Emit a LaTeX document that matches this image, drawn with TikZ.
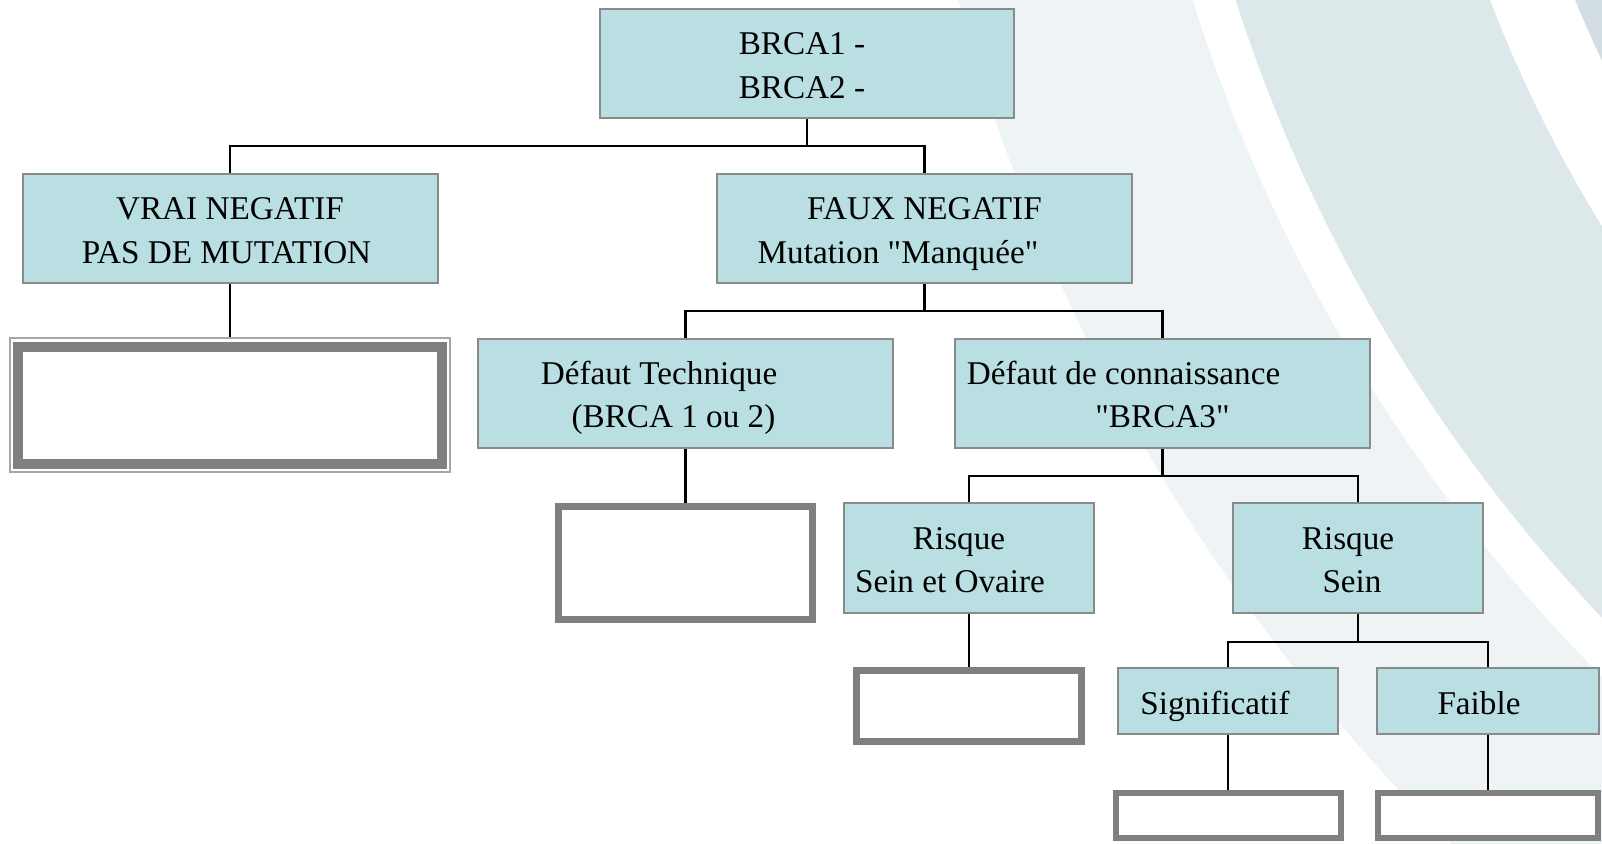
\documentclass[tikz,border=0pt]{standalone}
\usepackage{fontspec}
\newfontfamily\boxfont{Liberation Serif}
\usepackage{tikz}
\usetikzlibrary{calc}
\definecolor{boxfill}{RGB}{185,223,226}
\definecolor{boxline}{RGB}{138,138,138}
\definecolor{framegray}{RGB}{128,128,128}
\definecolor{swirlA}{RGB}{221,232,235}
\definecolor{swirlB}{RGB}{210,222,227}
\definecolor{swirlC}{RGB}{238,243,245}
\newcommand{\lt}{\rule{0pt}{18pt}}
\newcommand{\lb}{\rule[-5pt]{0pt}{5pt}}
\pgfdeclarelayer{bg}
\pgfsetlayers{bg,main}

\begin{document}
\begin{tikzpicture}[x=0.5pt, y=-0.5pt,
    box/.style 2 args={draw=boxline, line width=1pt, fill=boxfill, inner sep=0pt, align=center,
      minimum width=#1, minimum height=#2, font=\boxfont\fontsize{16.6}{21.7}\selectfont},
    empty/.style n args={3}{draw=framegray, line width=#1, fill=white, inner sep=0pt,
      minimum width=#2, minimum height=#3},
    link/.style={line width=1.2pt}]
    \useasboundingbox (0,0) rectangle (1602,843);
    \begin{pgfonlayer}{bg}
        \clip (0,0) rectangle (1602,843);
        \fill[swirlC] (2773,-493) circle (1880);
        \fill[white] (2773,-493) circle (1655);
        \fill[swirlA] (2773,-493) circle (1614);
        \fill[white] (2773,-493) circle (1374);
        \fill[swirlB] (2773,-493) circle (1295);
    \end{pgfonlayer}
    \node[box={207pt}{54.5pt}] (brca) at (807,63.5) {\lt BRCA1 -\hspace*{5pt}\\BRCA2 -\hspace*{5pt}\lb};
    \node[box={207.5pt}{54.5pt}] (vrai) at (230,228.5) {\lt VRAI NEGATIF\\PAS DE MUTATION\hspace*{3.5pt}\lb};
    \node[box={207.5pt}{54.5pt}] (faux) at (924.5,228.5) {\lt FAUX NEGATIF\\Mutation "Manquée"\hspace*{26.5pt}\lb};
    \node[box={207.5pt}{54.5pt}] (tech) at (685.5,393) {\lt Défaut Technique\hspace*{26.5pt}\\(BRCA 1 ou 2)\hspace*{12pt}\lb};
    \node[box={207.5pt}{54.5pt}] (conn) at (1162.5,393) {\lt Défaut de connaissance\hspace*{39pt}\\"BRCA3"\lb};
    \node[box={125pt}{55pt}] (rso) at (969,558) {\lt Risque\hspace*{10pt}\\Sein et Ovaire\hspace*{19pt}\lb};
    \node[box={125pt}{55pt}] (rs) at (1358,558) {\lt Risque\hspace*{10pt}\\Sein\hspace*{6pt}\lb};
    \node[box={110pt}{33pt}] (sig) at (1228,701) {\lt Significatif\hspace*{13pt}\lb};
    \node[box={111pt}{33pt}] (faib) at (1488,701) {\lt Faible\hspace*{9pt}\lb};

    \node[empty={0.8pt}{220pt}{67pt}, draw=framegray!70] (evrai) at (230,405) {};
    \draw[framegray, line width=5pt] ($(evrai.north west)+(9,9.7)$) rectangle ($(evrai.south east)+(-9,-9)$);
    \node[empty={3.5pt}{127.2pt}{56.9pt}] (etech) at (685.5,563) {};
    \node[empty={3.3pt}{112.5pt}{35.3pt}] (erso) at (969,706) {};
    \node[empty={3pt}{112.5pt}{22.5pt}] (esig) at (1228,815.5) {};
    \node[empty={3pt}{110.4pt}{22.5pt}] (efaib) at (1488,815.5) {};

    \begin{pgfonlayer}{bg}
        \draw[link] (brca.south) -- ++(0,27) coordinate (j1);
        \draw[link] (vrai.north) |- (j1) -| (faux.north);
        \draw[link] (faux.south) -- ++(0,27) coordinate (j2);
        \draw[link] (tech.north) |- (j2) -| (conn.north);
        \draw[link] (conn.south) -- ++(0,27.5) coordinate (j3);
        \draw[link] (rso.north) |- (j3) -| (rs.north);
        \draw[link] (rs.south) -- ++(0,27.7) coordinate (j4);
        \draw[link] (sig.north) |- (j4) -| (faib.north);
        \foreach \a/\b in {vrai/evrai, tech/etech, rso/erso, sig/esig, faib/efaib}
            \draw[link] (\a.south) -- (\b.north);
    \end{pgfonlayer}
\end{tikzpicture}
\end{document}
